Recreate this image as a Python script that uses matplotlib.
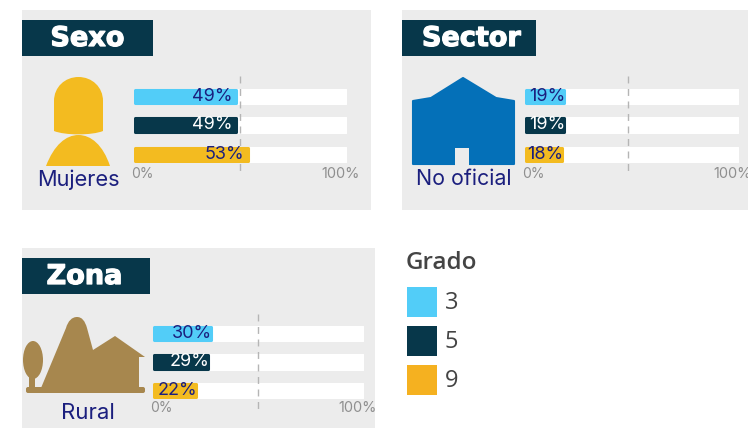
import matplotlib

matplotlib.use("Agg")
import matplotlib.pyplot as plt
import matplotlib.patheffects as pe
from matplotlib.patches import Rectangle, Polygon, Ellipse, PathPatch, FancyBboxPatch
from matplotlib.path import Path

W, H = 748, 428

# Datos
grados = ["3", "5", "9"]
colores = ["#52CDF8", "#07374A", "#F3BB20"]
colores_leyenda = ["#52CDF8", "#07374A", "#F5B120"]
text_colors = ["#1B1F7E", "#FFFFFF", "#1B1F7E"]

sexo_valores = [48.5, 48.5, 54]
sexo_labels = ["49%", "49%", "53%"]
sector_valores = [19, 19, 18]
sector_labels = ["19%", "19%", "18%"]
zona_valores = [28, 27, 21]
zona_labels = ["30%", "29%", "22%"]

plt.rcParams["font.family"] = ["Inter", "DejaVu Sans"]

fig = plt.figure(figsize=(W / 100, H / 100), dpi=100)
bg = fig.add_axes([0, 0, 1, 1])
bg.set_xlim(0, W)
bg.set_ylim(H, 0)
bg.axis("off")


def panel(box, title_box, title, title_x, x0, x1, bar_tops, bar_h, dash, dash_val, valores, labels, label_off, tick_y):
    # fondo gris y cabecera
    bg.add_patch(Rectangle((box[0], box[1]), box[2] - box[0], box[3] - box[1], color="#ECECEC", lw=0, zorder=0))
    bg.add_patch(Rectangle((title_box[0], title_box[1]), title_box[2] - title_box[0], title_box[3] - title_box[1],
                           color="#07374A", lw=0, zorder=1))
    bg.text(title_x, (title_box[1] + title_box[3]) / 2 + 1, title, color="white", fontsize=19.5, fontweight="bold",
            family=["DejaVu Sans"], ha="center", va="center", zorder=2,
            path_effects=[pe.withStroke(linewidth=0.9, foreground="white")])

    # ejes de barras: 0-100 en x, filas en y
    top = bar_tops[0]
    bottom = bar_tops[-1] + bar_h
    ax = fig.add_axes([x0 / W, 1 - bottom / H, (x1 - x0) / W, (bottom - top) / H], zorder=3)
    ax.patch.set_alpha(0)
    ax.set_xlim(0, 100)
    ax.set_ylim(bottom, top)
    ax.axis("off")
    centers = [t + bar_h / 2 for t in bar_tops]
    ax.barh(centers, [99] * 3, left=0.5, height=bar_h - 3, color="white", edgecolor="white", lw=2.2, joinstyle="round",
            zorder=1)
    ax.barh(centers, [v - 1.2 for v in valores], left=0.5, height=bar_h - 3, color=colores, edgecolor=colores, lw=2.2,
            joinstyle="round", zorder=2)
    ax.plot([dash_val, dash_val], dash, color="#B5B5B5", lw=1, ls=(0, (5, 4)), clip_on=False, zorder=3)
    for y, v, lab, c in zip(centers, valores, labels, text_colors):
        ax.text(v + label_off, y, lab, color=c, fontsize=13, ha="right", va="center", zorder=4)
    ax.text(-1.5, tick_y, "0%", color="#8F8F8F", fontsize=10, ha="left", va="center", clip_on=False)
    ax.text(106, tick_y, "100%", color="#8F8F8F", fontsize=10.5, ha="right", va="center", clip_on=False)


panel((22, 10, 371, 210), (22, 20, 153, 56), "Sexo", 87.5, 134, 347, [88, 116.5, 146], 16.5, (76, 173), 49.6,
      sexo_valores, sexo_labels, -2.4, 174)
panel((402, 10, 748, 210), (402, 20, 536, 56), "Sector", 471.5, 525, 739, [88, 116.5, 146], 16.5, (76, 173), 48.2,
      sector_valores, sector_labels, 0, 174)
panel((22, 248, 375, 428), (22, 258, 150, 294), "Zona", 84.5, 153, 364, [325, 353.5, 382], 16.5, (314, 409), 49.6,
      zona_valores, zona_labels, 0, 408)

# icono mujer
amarillo = "#F3BB20"
cabeza = Path(
    [(54, 131), (54, 101), (54, 87), (65, 77), (78.5, 77), (92, 77), (103, 87), (103, 101), (103, 131),
     (92, 135.5), (65, 135.5), (54, 131), (54, 131)],
    [Path.MOVETO, Path.LINETO, Path.CURVE4, Path.CURVE4, Path.CURVE4, Path.CURVE4, Path.CURVE4, Path.CURVE4,
     Path.LINETO, Path.CURVE4, Path.CURVE4, Path.CURVE4, Path.CLOSEPOLY],
)
bg.add_patch(PathPatch(cabeza, color=amarillo, lw=0, zorder=2))
cuerpo = Path(
    [(46, 166), (54, 145), (66, 135), (78.5, 135), (91, 135), (103, 145), (110, 166), (46, 166)],
    [Path.MOVETO, Path.CURVE4, Path.CURVE4, Path.CURVE4, Path.CURVE4, Path.CURVE4, Path.CURVE4, Path.CLOSEPOLY],
)
bg.add_patch(PathPatch(cuerpo, color=amarillo, lw=0, zorder=2))
bg.text(78, 180, "Mujeres", color="#1B1F7E", fontsize=15.7, ha="center", va="center", zorder=2)

# icono escuela
azul = "#0470B8"
bg.add_patch(Polygon([(413, 101), (431, 98), (463, 78), (496, 98), (514, 101), (514, 164), (413, 164)], closed=True,
                     facecolor=azul, edgecolor=azul, lw=1.5, joinstyle="round", zorder=2))
bg.add_patch(Rectangle((455, 148), 14, 18, color="#ECECEC", lw=0, zorder=3))
bg.text(463.5, 179, "No oficial", color="#1B1F7E", fontsize=15.4, ha="center", va="center", zorder=2)

# icono rural
cafe = "#A7874E"
bg.add_patch(Ellipse((33, 360), 20, 38, color=cafe, lw=0, zorder=2))
bg.add_patch(Rectangle((29, 375), 6, 14, color=cafe, lw=0, zorder=2))
bg.add_patch(FancyBboxPatch((28, 389), 115, 2, boxstyle="round,pad=2", color=cafe, lw=0, zorder=2))
monte = Path(
    [(41, 388), (66, 328), (68, 321), (72, 317), (77, 317), (82, 317), (85, 321), (87, 328), (93, 350), (115, 336),
     (145, 357), (139, 357), (139, 388), (41, 388)],
    [Path.MOVETO, Path.LINETO, Path.CURVE4, Path.CURVE4, Path.CURVE4, Path.CURVE4, Path.CURVE4, Path.CURVE4,
     Path.LINETO, Path.LINETO, Path.LINETO, Path.LINETO, Path.LINETO, Path.CLOSEPOLY],
)
bg.add_patch(PathPatch(monte, color=cafe, lw=0, zorder=2))
bg.text(87.5, 413, "Rural", color="#1B1F7E", fontsize=16, ha="center", va="center", zorder=2)

# leyenda
bg.text(406, 263, "Grado", color="#444444", fontsize=17.5, fontweight="semibold", family=["Open Sans", "DejaVu Sans"],
        ha="left", va="center")
for i, (g, c) in enumerate(zip(grados, colores_leyenda)):
    y = 287 + i * 39
    bg.add_patch(Rectangle((407, y), 30, 30, color=c, lw=0))
    bg.text(445, y + 16, g, color="#444444", fontsize=17, family=["Open Sans", "DejaVu Sans"],
            ha="left", va="center")

fig.savefig("out.png", dpi=100)
